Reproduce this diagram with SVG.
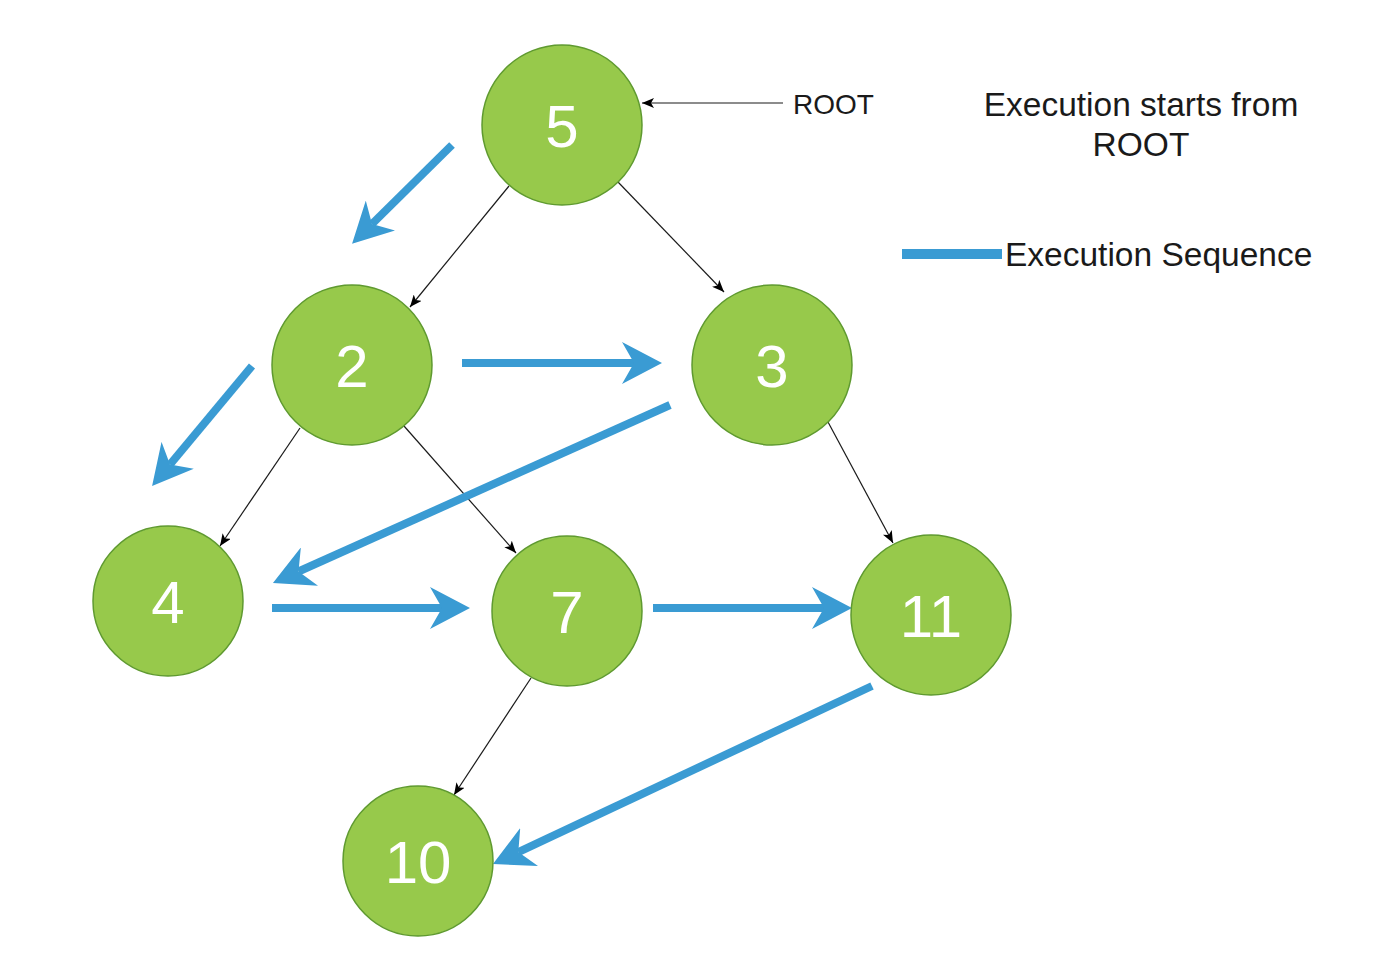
<svg xmlns="http://www.w3.org/2000/svg" width="1374" height="960" viewBox="0 0 1374 960">
<style>
.node{fill:#97c94b;stroke:#5f9a30;stroke-width:1.5}
.num{fill:#ffffff;font-family:"Liberation Sans",Arial,sans-serif;font-size:60px;text-anchor:middle}
.edge{stroke:#1a1a1a;stroke-width:1.2;fill:none;marker-end:url(#blk)}
.seq{stroke:#3a9bd3;stroke-width:8;fill:none;marker-end:url(#blu)}
.lbl{fill:#1a1a1a;font-family:"Liberation Sans",Arial,sans-serif}
</style>
<defs>
<marker id="blk" viewBox="0 0 12 10" refX="12" refY="5" markerWidth="12" markerHeight="10" markerUnits="userSpaceOnUse" orient="auto">
<path d="M0,0 L12,5 L0,10 L3,5 z" fill="#000"/>
</marker>
<marker id="blu" viewBox="0 0 40 42" refX="12" refY="21" markerWidth="40" markerHeight="42" markerUnits="userSpaceOnUse" orient="auto">
<path d="M0,0 L40,21 L0,42 L12,21 z" fill="#3a9bd3"/>
</marker>
</defs>
<rect width="1374" height="960" fill="#ffffff"/>
<g id="connectors">
<line class="edge" x1="509" y1="186" x2="410" y2="307"/>
<line class="edge" x1="618" y1="182" x2="724" y2="292"/>
<line class="edge" x1="300" y1="428" x2="220" y2="546"/>
<line class="edge" x1="404" y1="426" x2="516" y2="553"/>
<line class="edge" x1="828" y1="422" x2="893" y2="543"/>
<line class="edge" x1="531" y1="678" x2="454" y2="795"/>
<line class="edge" x1="783" y1="103" x2="642" y2="103"/>
<line class="seq" x1="452" y1="145" x2="372" y2="224"/>
<line class="seq" x1="252" y1="366" x2="170" y2="464.5"/>
<line class="seq" x1="462" y1="363" x2="634" y2="363"/>
<line class="seq" x1="670" y1="405" x2="298.5" y2="571.5"/>
<line class="seq" x1="272" y1="608" x2="442" y2="608"/>
<line class="seq" x1="653" y1="608" x2="824" y2="608"/>
<line class="seq" x1="872" y1="686" x2="518.3" y2="852.1"/>
</g>
<g id="n5"><circle class="node" cx="562" cy="125" r="80"/><text class="num" x="562" y="147">5</text></g>
<g id="n2"><circle class="node" cx="352" cy="365" r="80"/><text class="num" x="352" y="387">2</text></g>
<g id="n3"><circle class="node" cx="772" cy="365" r="80"/><text class="num" x="772" y="387">3</text></g>
<g id="n4"><circle class="node" cx="168" cy="601" r="75"/><text class="num" x="168" y="623">4</text></g>
<g id="n7"><circle class="node" cx="567" cy="611" r="75"/><text class="num" x="567" y="633">7</text></g>
<g id="n11"><circle class="node" cx="931" cy="615" r="80"/><text class="num" x="931" y="637">11</text></g>
<g id="n10"><circle class="node" cx="418" cy="861" r="75"/><text class="num" x="418" y="883">10</text></g>
<g id="root-label"><text class="lbl" x="793" y="114" font-size="28">ROOT</text></g>
<g id="note"><text class="lbl" x="1141" y="116" font-size="33.5" text-anchor="middle">Execution starts from</text><text class="lbl" x="1141" y="156" font-size="33.5" text-anchor="middle">ROOT</text></g>
<g id="legend"><line x1="902" y1="254" x2="1002" y2="254" stroke="#3a9bd3" stroke-width="10"/><text class="lbl" x="1005" y="266" font-size="33.5">Execution Sequence</text></g>
</svg>
